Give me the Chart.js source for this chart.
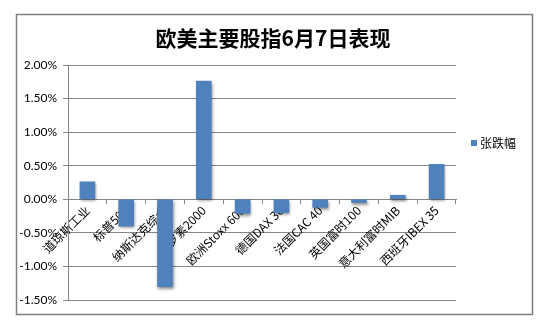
<!DOCTYPE html>
<html>
<head>
<meta charset="utf-8">
<script src="https://cdn.jsdelivr.net/npm/chart.js@4/dist/chart.umd.min.js"></script>
<style>
  html, body { margin: 0; padding: 0; background: #fff; }
  #myChart { display: block; }
</style>
</head>
<body>
<canvas id="myChart" width="548" height="327"></canvas>
<script>
const titleText = '欧美主要股指6月7日表现';
const seriesName = '张跌幅';
const categories = ['道琼斯工业', '标普500', '纳斯达克综合', '罗素2000', '欧洲Stoxx 600',
    '德国DAX 30', '法国CAC 40', '英国富时100', '意大利富时MIB', '西班牙IBEX 35'];
const changes = [0.26, -0.40, -1.30, 1.76, -0.21, -0.20, -0.12, -0.05, 0.06, 0.52]; // %
const yMin = -1.5;
const yMax = 2.0;
const yStep = 0.5;

const fontFam = "Lato, 'Noto Sans CJK SC', sans-serif";

// outer frame, title and legend drawn by hand (title is centred on the whole frame)
const framePlugin = {
    id: 'frame',
    beforeDraw(chart) {
        const c = chart.ctx;
        c.save();
        c.fillStyle = '#fff';
        c.fillRect(0, 0, chart.width, chart.height);
        c.strokeStyle = '#7f7f7f';
        c.lineWidth = 1.5;
        c.strokeRect(16.5, 14.5, 516, 300);
        c.restore();
    },
    afterDraw(chart) {
        const c = chart.ctx;
        const ds = chart.data.datasets[0];
        c.save();
        c.fillStyle = '#000';
        c.font = "bold 21px 'Noto Sans CJK SC', sans-serif";
        c.textAlign = 'center';
        c.textBaseline = 'middle';
        c.fillText(titleText, 273, 38);

        c.textAlign = 'left';
        c.fillStyle = ds.backgroundColor;
        c.fillRect(471, 140, 6, 6);
        c.fillStyle = '#000';
        c.font = "12px 'Noto Sans CJK SC', sans-serif";
        c.fillText(ds.label, 480, 143);
        c.restore();
    }
};

// soft shadow under bars
const shadowPlugin = {
    id: 'barShadow',
    beforeDatasetsDraw(chart) {
        const c = chart.ctx;
        c.save();
        c.shadowColor = 'rgba(0,0,0,0.45)';
        c.shadowBlur = 3;
        c.shadowOffsetX = 1;
        c.shadowOffsetY = 2;
    },
    afterDatasetsDraw(chart) {
        chart.ctx.restore();
    }
};

const ctx = document.getElementById('myChart');

let myChart = new Chart(ctx, {
    type: 'bar',
    data: {
        labels: categories,
        datasets: [{
            label: seriesName,
            data: changes,
            backgroundColor: '#4f81bd',
            borderWidth: 0,
            barThickness: 15
        }]
    },
    options: {
        responsive: false,
        animation: false,
        layout: {
            padding: { left: 17, right: 92, top: 65, bottom: 27 }
        },
        plugins: {
            legend: { display: false },
            tooltip: { enabled: false },
            title: { display: false }
        },
        scales: {
            x: {
                position: { y: 0 },
                z: 1,
                grid: {
                    display: true,
                    drawOnChartArea: false,
                    drawTicks: true,
                    tickLength: 4,
                    color: '#868686',
                    offset: true
                },
                border: { display: true, color: '#868686', width: 1 },
                ticks: {
                    autoSkip: false,
                    minRotation: 45,
                    maxRotation: 45,
                    padding: 0,
                    color: '#000',
                    font: { family: "'Noto Sans CJK SC', sans-serif", size: 12 }
                }
            },
            y: {
                min: yMin,
                max: yMax,
                afterFit(scale) { scale.width = 51; },
                grid: {
                    color: '#868686',
                    tickLength: 5,
                    drawTicks: true
                },
                border: { display: true, color: '#868686', width: 1 },
                ticks: {
                    stepSize: yStep,
                    padding: 6,
                    color: '#000',
                    font: { family: fontFam, size: 12 },
                    callback: function(v) { return v.toFixed(2) + '%'; }
                }
            }
        }
    },
    plugins: [framePlugin, shadowPlugin]
});
</script>
</body>
</html>
